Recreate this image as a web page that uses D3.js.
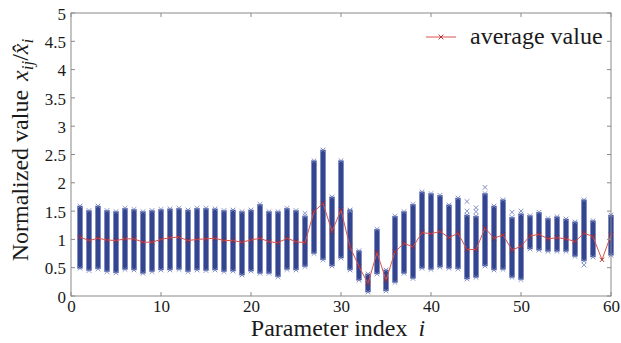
<!DOCTYPE html>
<html>
<head>
<meta charset="utf-8">
<script src="https://cdn.jsdelivr.net/npm/d3@7"></script>
<style>
  html, body { margin: 0; padding: 0; background: #fff; }
  svg { display: block; }
  text { font-family: "Liberation Serif", "Times New Roman", "DejaVu Serif", serif; fill: #1a1a1a; }
</style>
</head>
<body>
<svg id="chart" width="621" height="343"></svg>
<script>
// Parameter indices 1..60
const paramIndex = d3.range(1, 61);

// Minimum normalized value observed for each parameter
const minVals = [
  0.49, 0.45, 0.48, 0.43, 0.41, 0.47, 0.46, 0.40, 0.43, 0.46,
  0.46, 0.47, 0.43, 0.46, 0.45, 0.46, 0.43, 0.44, 0.37, 0.44,
  0.40, 0.40, 0.34, 0.47, 0.46, 0.52, 0.75, 0.64, 0.53, 0.67,
  0.46, 0.28, 0.07, 0.39, 0.09, 0.24, 0.40, 0.31, 0.49, 0.47,
  0.51, 0.49, 0.48, 0.30, 0.33, 0.53, 0.46, 0.47, 0.33, 0.29,
  0.83, 0.81, 0.79, 0.79, 0.79, 0.70, 0.62, 0.69, 0.64, 0.72
];

// Maximum normalized value observed for each parameter
const maxVals = [
  1.59, 1.51, 1.59, 1.51, 1.49, 1.55, 1.53, 1.49, 1.51, 1.53,
  1.54, 1.55, 1.52, 1.55, 1.55, 1.54, 1.51, 1.52, 1.49, 1.52,
  1.62, 1.49, 1.49, 1.55, 1.51, 1.41, 2.39, 2.58, 1.75, 2.39,
  1.52, 0.80, 0.39, 1.18, 0.46, 1.41, 1.49, 1.62, 1.84, 1.81,
  1.78, 1.61, 1.73, 1.43, 1.41, 1.81, 1.59, 1.70, 1.39, 1.45,
  1.42, 1.48, 1.37, 1.40, 1.36, 1.31, 1.70, 1.33, 0.64, 1.43
];

// Average normalized value for each parameter
const avgVals = [
  1.04, 0.98, 1.02, 0.99, 0.98, 1.01, 1.01, 0.95, 0.95, 1.00,
  1.03, 1.04, 0.98, 1.00, 1.01, 1.02, 0.98, 0.98, 0.95, 0.99,
  1.02, 0.96, 0.94, 1.02, 0.96, 0.94, 1.49, 1.64, 1.14, 1.52,
  0.87, 0.52, 0.22, 0.77, 0.28, 0.78, 0.93, 0.87, 1.12, 1.10,
  1.14, 1.03, 1.11, 0.82, 0.82, 1.20, 1.02, 1.08, 0.81, 0.88,
  1.06, 1.09, 1.01, 1.03, 1.01, 0.96, 1.11, 1.05, 0.64, 1.08
];

// Isolated samples lying apart from the dense stacks
const outlierIdx = [44, 44, 45, 45, 46, 49, 50, 57, 26, 31];
const outlierVals = [1.67, 1.50, 1.56, 1.49, 1.92, 1.48, 1.50, 0.55, 1.46, 1.50];

const xTicks = [0, 10, 20, 30, 40, 50, 60];
const yTicks = [0, 0.5, 1, 1.5, 2, 2.5, 3, 3.5, 4, 4.5, 5];
const yTickLabels = ["0", "0.5", "1", "1.5", "2", "2.5", "3", "3.5", "4", "4.5", "5"];

const W = 621, H = 343;
const margin = { left: 71, right: 10, top: 13, bottom: 47 };
const svg = d3.select("#chart");

const x = d3.scaleLinear().domain([0, 60]).range([margin.left, W - margin.right]);
const y = d3.scaleLinear().domain([0, 5]).range([H - margin.bottom, margin.top]);

const axisColor = "#8a8a8a";
const barColor = "#34458f";
const edgeColor = "#7281bd";
const avgColor = "#d9534f";

// small "x" marker path centred on (cx, cy)
function cross(cx, cy, r) {
  return `M${cx - r},${cy - r}L${cx + r},${cy + r}M${cx - r},${cy + r}L${cx + r},${cy - r}`;
}

const plot = svg.append("g");

// Dense stacks of samples per parameter
plot.selectAll("rect.stack")
  .data(paramIndex.filter((d, k) => maxVals[k] > minVals[k]))
  .join("rect")
  .attr("class", "stack")
  .attr("x", d => x(d) - 2.5)
  .attr("width", 5)
  .attr("y", d => y(maxVals[d - 1]))
  .attr("height", d => y(minVals[d - 1]) - y(maxVals[d - 1]))
  .attr("fill", barColor)
  .attr("stroke", edgeColor)
  .attr("stroke-width", 0.6);

// end markers of each stack
const ends = [];
paramIndex.forEach((d, k) => {
  if (maxVals[k] > minVals[k]) {
    ends.push([d, maxVals[k]]);
    ends.push([d, minVals[k]]);
  }
});
plot.append("path")
  .attr("d", ends.map(e => cross(x(e[0]), y(e[1]), 2.3)).join(""))
  .attr("stroke", edgeColor)
  .attr("stroke-width", 0.9)
  .attr("fill", "none");

// isolated samples
plot.append("path")
  .attr("d", outlierIdx.map((d, k) => cross(x(d), y(outlierVals[k]), 2.3)).join(""))
  .attr("stroke", edgeColor)
  .attr("stroke-width", 0.9)
  .attr("fill", "none");

// Average value line with markers
const line = d3.line().x(d => x(d)).y(d => y(avgVals[d - 1]));
plot.append("path")
  .attr("d", line(paramIndex))
  .attr("fill", "none")
  .attr("stroke", avgColor)
  .attr("stroke-width", 1);
plot.append("path")
  .attr("d", paramIndex.map(d => cross(x(d), y(avgVals[d - 1]), 2.2)).join(""))
  .attr("stroke", "#a8282e")
  .attr("stroke-width", 0.9)
  .attr("fill", "none");

// Axes (box with inward ticks on all four sides)
const tickLen = 4;
const bottomAxis = d3.axisBottom(x).tickValues(xTicks).tickSize(0).tickPadding(4).tickFormat(d3.format("d"));
const leftAxis = d3.axisLeft(y).tickValues(yTicks).tickSize(0).tickPadding(5).tickFormat((d, k) => yTickLabels[k]);

const gx = svg.append("g").attr("transform", `translate(0,${y(0)})`).call(bottomAxis);
const gy = svg.append("g").attr("transform", `translate(${x(0)},0)`).call(leftAxis);
[gx, gy].forEach(g => {
  g.attr("font-family", null);
  g.select(".domain").remove();
  g.selectAll("text").attr("font-size", 17).attr("fill", "#1a1a1a");
});
gy.selectAll("text").attr("dy", "0.36em");

// frame
svg.append("rect")
  .attr("x", x(0)).attr("y", y(5))
  .attr("width", x(60) - x(0)).attr("height", y(0) - y(5))
  .attr("fill", "none").attr("stroke", axisColor).attr("stroke-width", 1);

const ticks = svg.append("g").attr("stroke", axisColor).attr("stroke-width", 1);
xTicks.forEach(t => {
  ticks.append("line").attr("x1", x(t)).attr("x2", x(t)).attr("y1", y(0)).attr("y2", y(0) - tickLen);
  ticks.append("line").attr("x1", x(t)).attr("x2", x(t)).attr("y1", y(5)).attr("y2", y(5) + tickLen);
});
yTicks.forEach(t => {
  ticks.append("line").attr("x1", x(0)).attr("x2", x(0) + tickLen).attr("y1", y(t)).attr("y2", y(t));
  ticks.append("line").attr("x1", x(60)).attr("x2", x(60) - tickLen).attr("y1", y(t)).attr("y2", y(t));
});

// x-axis title
const xt = svg.append("text")
  .attr("x", 338).attr("y", 336)
  .attr("text-anchor", "middle")
  .attr("font-size", 24);
xt.append("tspan").text("Parameter index ");
xt.append("tspan").attr("font-style", "italic").attr("dx", 5).text("i");

// y-axis title
const yt = svg.append("text")
  .attr("transform", `translate(28,150) rotate(-90)`)
  .attr("text-anchor", "middle")
  .attr("font-size", 24);
yt.append("tspan").text("Normalized value ");
yt.append("tspan").attr("font-style", "italic").attr("dx", 3).text("x");
yt.append("tspan").attr("font-style", "italic").attr("font-size", 17).attr("dy", 5).text("ij");
yt.append("tspan").attr("dy", -5).text("/");
yt.append("tspan").attr("font-style", "italic").text("x\u0302");
yt.append("tspan").attr("font-style", "italic").attr("font-size", 17).attr("dy", 5).text("i");

// Legend
const lg = svg.append("g");
lg.append("line")
  .attr("x1", 426).attr("x2", 456).attr("y1", 37).attr("y2", 37)
  .attr("stroke", avgColor).attr("stroke-width", 1);
lg.append("path")
  .attr("d", cross(441, 37, 2.4))
  .attr("stroke", "#a8282e").attr("stroke-width", 0.9).attr("fill", "none");
lg.append("text")
  .attr("x", 470).attr("y", 44)
  .attr("font-size", 24)
  .text("average value");
</script>
</body>
</html>
